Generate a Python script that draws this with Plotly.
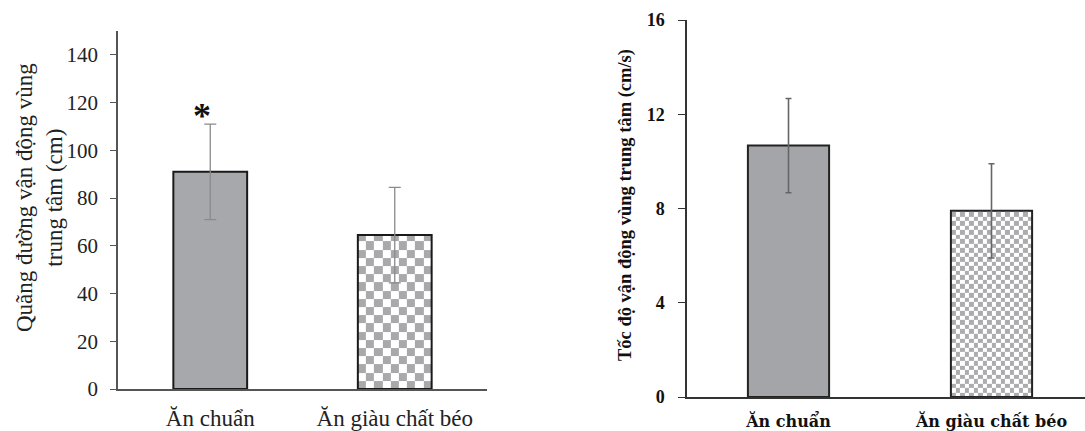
import numpy as np
import plotly.graph_objects as go

# ---------------- data ----------------
categories = ["Ăn chuẩn", "Ăn giàu chất béo"]
distance_cm = [91.0, 64.5]
distance_err = [20.0, 20.0]
speed_cms = [10.67, 7.9]
speed_err = [2.0, 2.0]
left_ticks = [0, 20, 40, 60, 80, 100, 120, 140]
right_ticks = [0, 4, 8, 12, 16]
left_title = "Quãng đường vận động vùng<br>trung tâm (cm)"
right_title = "Tốc độ vận động vùng trung tâm (cm/s)"
significance = "*"

W, H = 1085, 431
SERIF = "Liberation Serif, Times New Roman, DejaVu Serif, serif"
WIDE = "DejaVu Serif, serif"
GRAY = "#a7a8ab"
BAR_W = 0.4

# domains (fractions of the page)
L_X = [118 / W, 487 / W]
L_Y = [(H - 389) / H, (H - 31) / H]
R_X = [687 / W, 1.0]
R_Y = [(H - 397) / H, (H - 20) / H]
L_YR = [0, 150]
R_YR = [0, 16]
L_XR = [-0.5, 1.5]
R_XR = [-0.5, -0.5 + (W - 687) / 203]


def checker(center, top, ncols, xdom, xr, ydom, yr, dark):
    """checkerboard heatmap filling a bar from 0 to top"""
    px_per_x = (xdom[1] - xdom[0]) * W / (xr[1] - xr[0])
    px_per_y = (ydom[1] - ydom[0]) * H / (yr[1] - yr[0])
    dx = BAR_W / ncols
    dy = dx * px_per_x / px_per_y
    nrows = int(np.ceil(top / dy))
    xe = center - BAR_W / 2 + np.arange(ncols + 1) * dx
    ye = np.minimum(np.arange(nrows + 1) * dy, top)
    ii, jj = np.indices((nrows, ncols))
    z = ((ii + jj) % 2).astype(float)
    return go.Heatmap(x=xe, y=ye, z=z, zmin=0, zmax=1,
                      colorscale=[[0, dark], [1, "#ffffff"]],
                      showscale=False, hoverinfo="skip", zsmooth=False)


fig = go.Figure()
xs = list(range(len(categories)))

# left panel
fig.add_trace(checker(xs[1], distance_cm[1], 9, L_X, L_XR, L_Y, L_YR, "#a9a9ab"))
fig.add_trace(go.Bar(
    x=xs, y=distance_cm, width=BAR_W,
    marker=dict(color=[GRAY, "rgba(0,0,0,0)"], line=dict(color="#1a1a1a", width=2)),
    error_y=dict(type="data", array=distance_err, color="#8a8a8a", thickness=1.3, width=6),
    xaxis="x", yaxis="y", showlegend=False, hoverinfo="skip"))

# right panel
h2 = checker(xs[1], speed_cms[1], 18, R_X, R_XR, R_Y, R_YR, "#acacae")
h2.update(xaxis="x2", yaxis="y2")
fig.add_trace(h2)
fig.add_trace(go.Bar(
    x=xs, y=speed_cms, width=BAR_W,
    marker=dict(color=["#a4a5a8", "rgba(0,0,0,0)"], line=dict(color="#222222", width=2)),
    error_y=dict(type="data", array=speed_err, color="#666666", thickness=1.6, width=3),
    xaxis="x2", yaxis="y2", showlegend=False, hoverinfo="skip"))

common = dict(showgrid=False, zeroline=False, automargin=False, showline=True)
fig.update_layout(
    width=W, height=H,
    margin=dict(l=0, r=0, t=0, b=0, autoexpand=False),
    showlegend=False,
    paper_bgcolor="white", plot_bgcolor="white",
    font=dict(family=SERIF, color="#222222"),
    xaxis=dict(domain=L_X, range=L_XR, tickvals=xs, ticktext=categories,
               linecolor="#555555", linewidth=1.5, ticks="",
               tickfont=dict(family=SERIF, size=23, color="#222"),
               ticklabelstandoff=8, **common),
    yaxis=dict(domain=L_Y, range=L_YR, tickvals=left_ticks,
               linecolor="#555555", linewidth=1.5, ticks="outside",
               ticklen=6, tickcolor="#555555",
               tickfont=dict(family=SERIF, size=21, color="#222"), ticklabelstandoff=8, **common),
    xaxis2=dict(domain=R_X, range=R_XR, tickvals=xs, ticktext=categories, anchor="y2",
                linecolor="#333333", linewidth=1.5, ticks="",
                tickfont=dict(family=WIDE, size=16, color="#111", weight="bold"),
                ticklabelstandoff=9, **common),
    yaxis2=dict(domain=R_Y, range=R_YR, tickvals=right_ticks, anchor="x2",
                linecolor="#333333", linewidth=1.5, ticks="outside",
                ticklen=7, tickcolor="#333333",
                tickfont=dict(family=SERIF, size=18, color="#111", weight="bold"),
                ticklabelstandoff=10, **common),
    annotations=[
        dict(text=left_title, xref="paper", yref="paper", x=40 / W, y=(H - 198) / H,
             textangle=-90, showarrow=False, font=dict(family=SERIF, size=23, color="#222"),
             xanchor="center", yanchor="middle"),
        dict(text=right_title, xref="paper", yref="paper", x=625 / W, y=(H - 205) / H,
             textangle=-90, showarrow=False,
             font=dict(family=SERIF, size=18.5, color="#111", weight="bold"),
             xanchor="center", yanchor="middle"),
        dict(text=significance, xref="x", yref="y", x=xs[0],
             y=distance_cm[0] + distance_err[0], xshift=-8, yshift=-14,
             showarrow=False, font=dict(family=SERIF, size=36, color="#111", weight="bold"),
             xanchor="center", yanchor="bottom"),
    ],
)

fig.write_html("out.html", post_script="document.body.style.margin='0';",
               config={"displayModeBar": False})
